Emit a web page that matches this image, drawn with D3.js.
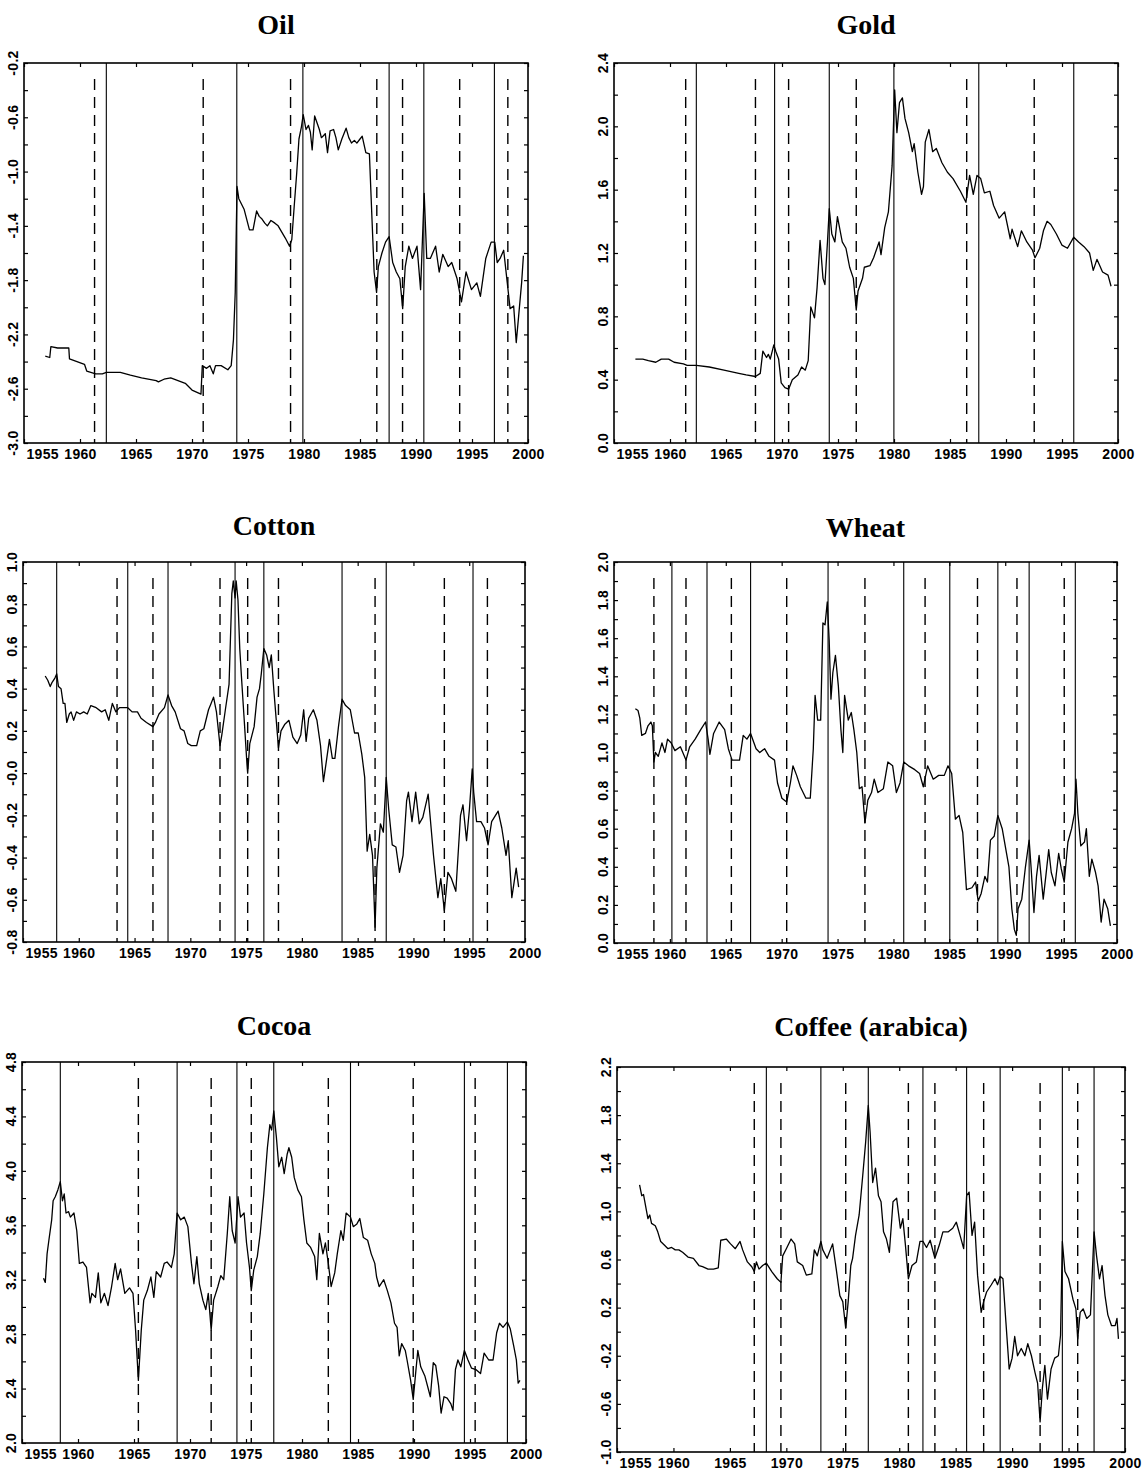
<!DOCTYPE html>
<html>
<head>
<meta charset="utf-8">
<script src="https://cdn.jsdelivr.net/npm/d3@7"></script>
<style>
    body { margin: 0; background: #fff; }
    svg { display: block; }
    .tick text { font-family: "Liberation Sans", Arial, sans-serif; font-weight: bold; font-size: 14px; letter-spacing: 0.3px; fill: #000; }
    .ylab { font-family: "Liberation Sans", Arial, sans-serif; font-weight: bold; font-size: 14px; letter-spacing: 0.3px; fill: #000; }
    .title { font-family: "Liberation Serif", "Times New Roman", serif; font-weight: bold; font-size: 28px; fill: #000; }
</style>
</head>
<body>
<svg id="chart" width="1146" height="1474"></svg>
<script>
// Shared x axis
const yearTicks = [1955, 1960, 1965, 1970, 1975, 1980, 1985, 1990, 1995, 2000];
const yearLabels = ['1955', '1960', '1965', '1970', '1975', '1980', '1985', '1990', '1995', '2000'];

// Oil
const oilTicks = [-3.0, -2.6, -2.2, -1.8, -1.4, -1.0, -0.6, -0.2];
const oilLabels = ['-3.0', '-2.6', '-2.2', '-1.8', '-1.4', '-1.0', '-0.6', '-0.2'];
const oilSolid = [1962.35, 1974.0, 1979.9, 1987.6, 1990.7, 1997.0];
const oilDashed = [1961.3, 1971.0, 1978.8, 1986.5, 1988.8, 1993.9, 1998.2];
const oilSeries = [
    [1956.9,-2.36],[1957.3,-2.37],[1957.4,-2.29],[1958.0,-2.30],[1959.0,-2.30],[1959.06,-2.38],[1960.4,-2.42],
    [1960.6,-2.47],[1961.4,-2.49],[1962.0,-2.49],[1962.35,-2.48],[1963.6,-2.48],[1964.5,-2.50],[1965.5,-2.52],
    [1966.8,-2.54],[1967.0,-2.55],[1967.5,-2.53],[1968.1,-2.52],[1969.4,-2.56],[1970.0,-2.61],[1970.8,-2.64],
    [1970.92,-2.43],[1971.3,-2.45],[1971.6,-2.43],[1971.9,-2.49],[1972.1,-2.43],[1972.6,-2.43],[1973.2,-2.46],
    [1973.5,-2.43],[1973.7,-2.24],[1973.86,-1.89],[1974.02,-1.11],[1974.18,-1.20],[1974.66,-1.28],[1975.13,-1.43],
    [1975.45,-1.43],[1975.77,-1.29],[1976.0,-1.33],[1976.25,-1.35],[1976.5,-1.38],[1976.73,-1.40],[1977.05,-1.36],
    [1977.4,-1.38],[1977.69,-1.40],[1978.33,-1.49],[1978.71,-1.55],[1978.91,-1.50],[1979.13,-1.25],[1979.35,-1.01],
    [1979.55,-0.76],[1979.77,-0.67],[1979.93,-0.58],[1980.18,-0.69],[1980.4,-0.66],[1980.57,-0.71],[1980.73,-0.84],
    [1980.95,-0.59],[1981.2,-0.65],[1981.37,-0.69],[1981.55,-0.75],[1981.69,-0.74],[1981.9,-0.72],[1982.1,-0.86],
    [1982.33,-0.70],[1982.64,-0.69],[1982.85,-0.75],[1983.06,-0.84],[1983.38,-0.76],[1983.76,-0.68],[1984.0,-0.75],
    [1984.24,-0.79],[1984.5,-0.77],[1984.72,-0.79],[1985.0,-0.76],[1985.2,-0.74],[1985.52,-0.86],[1985.84,-0.87],
    [1986.07,-1.35],[1986.26,-1.74],[1986.48,-1.89],[1986.64,-1.70],[1986.96,-1.60],[1987.28,-1.52],[1987.6,-1.48],
    [1987.92,-1.67],[1988.24,-1.74],[1988.56,-1.79],[1988.81,-2.01],[1989.04,-1.70],[1989.36,-1.55],[1989.68,-1.64],
    [1990.09,-1.55],[1990.41,-1.87],[1990.73,-1.16],[1990.96,-1.64],[1991.28,-1.64],[1991.75,-1.55],[1992.07,-1.74],
    [1992.39,-1.61],[1992.87,-1.70],[1993.19,-1.67],[1993.67,-1.79],[1994.06,-1.96],[1994.47,-1.74],[1994.95,-1.87],
    [1995.43,-1.82],[1995.75,-1.92],[1996.23,-1.64],[1996.71,-1.52],[1997.03,-1.52],[1997.25,-1.67],[1997.51,-1.64],
    [1997.83,-1.58],[1998.15,-1.82],[1998.4,-2.01],[1998.72,-1.99],[1998.95,-2.26],[1999.17,-2.06],[1999.43,-1.82],
    [1999.59,-1.62]
];

// Gold
const goldTicks = [0.0, 0.4, 0.8, 1.2, 1.6, 2.0, 2.4];
const goldLabels = ['0.0', '0.4', '0.8', '1.2', '1.6', '2.0', '2.4'];
const goldSolid = [1962.35, 1969.34, 1974.22, 1979.99, 1987.57, 1996.05];
const goldDashed = [1961.4, 1967.63, 1970.59, 1976.63, 1986.49, 1992.52];
const goldSeries = [
    [1956.91,0.53],[1957.57,0.53],[1958.07,0.52],[1958.73,0.51],[1959.22,0.53],[1959.88,0.53],[1960.37,0.51],
    [1961.2,0.5],[1961.53,0.49],[1962.35,0.49],[1963.51,0.48],[1964.82,0.46],[1966.14,0.44],[1966.8,0.43],
    [1967.63,0.42],[1968.06,0.44],[1968.29,0.58],[1968.62,0.54],[1968.78,0.56],[1968.95,0.53],[1969.27,0.62],
    [1969.44,0.58],[1969.7,0.53],[1969.93,0.38],[1970.26,0.35],[1970.59,0.34],[1970.92,0.4],[1971.42,0.43],
    [1971.75,0.48],[1972.08,0.46],[1972.34,0.52],[1972.57,0.86],[1972.9,0.79],[1973.13,0.98],[1973.4,1.28],
    [1973.66,1.04],[1973.83,1.0],[1974.06,1.27],[1974.22,1.48],[1974.45,1.32],[1974.72,1.27],[1974.95,1.43],
    [1975.38,1.27],[1975.71,1.23],[1976.04,1.11],[1976.37,1.04],[1976.63,0.84],[1976.79,0.96],[1977.19,1.04],
    [1977.35,1.11],[1977.85,1.12],[1978.18,1.17],[1978.67,1.27],[1978.84,1.19],[1979.17,1.36],[1979.5,1.46],
    [1979.83,1.75],[1980.06,2.23],[1980.26,1.96],[1980.49,2.15],[1980.75,2.18],[1980.98,2.05],[1981.31,1.96],
    [1981.64,1.84],[1981.8,1.89],[1982.13,1.71],[1982.46,1.57],[1982.63,1.62],[1982.79,1.9],[1983.12,1.98],
    [1983.45,1.84],[1983.78,1.86],[1984.28,1.77],[1984.77,1.71],[1985.27,1.67],[1985.93,1.59],[1986.42,1.52],
    [1986.75,1.69],[1987.08,1.57],[1987.41,1.69],[1987.74,1.67],[1988.07,1.58],[1988.56,1.59],[1988.89,1.5],
    [1989.39,1.42],[1989.88,1.46],[1990.38,1.29],[1990.54,1.35],[1991.04,1.24],[1991.37,1.34],[1991.86,1.27],
    [1992.35,1.22],[1992.59,1.17],[1993.01,1.23],[1993.34,1.34],[1993.67,1.4],[1994.0,1.38],[1994.5,1.32],
    [1994.99,1.25],[1995.49,1.23],[1996.05,1.3],[1996.48,1.27],[1996.97,1.24],[1997.46,1.2],[1997.79,1.09],
    [1998.12,1.16],[1998.62,1.08],[1999.11,1.06],[1999.38,0.99]
];

// Cotton
const cottonTicks = [-0.8, -0.6, -0.4, -0.2, 0.0, 0.2, 0.4, 0.6, 0.8, 1.0];
const cottonLabels = ['-0.8', '-0.6', '-0.4', '-0.2', '-0.0', '0.2', '0.4', '0.6', '0.8', '1.0'];
const cottonSolid = [1958.02, 1964.39, 1968.0, 1974.01, 1976.59, 1983.6, 1987.56, 1995.34];
const cottonDashed = [1963.43, 1966.65, 1972.66, 1975.14, 1977.9, 1986.56, 1992.77, 1996.63];
const cottonSeries = [
    [1956.99,0.46],[1957.22,0.44],[1957.44,0.41],[1957.61,0.43],[1957.86,0.45],[1958.02,0.47],[1958.18,0.41],
    [1958.41,0.40],[1958.6,0.33],[1958.76,0.33],[1958.92,0.24],[1959.15,0.28],[1959.31,0.29],[1959.54,0.25],
    [1959.79,0.29],[1960.11,0.28],[1960.44,0.29],[1960.76,0.28],[1961.08,0.32],[1961.56,0.31],[1962.05,0.29],
    [1962.37,0.30],[1962.69,0.25],[1963.01,0.33],[1963.33,0.29],[1963.65,0.31],[1963.98,0.31],[1964.39,0.31],
    [1964.78,0.29],[1965.26,0.29],[1965.58,0.26],[1966.07,0.24],[1966.65,0.22],[1966.87,0.24],[1967.19,0.28],
    [1967.68,0.31],[1968.0,0.37],[1968.32,0.32],[1968.64,0.29],[1969.12,0.21],[1969.44,0.20],[1969.77,0.14],
    [1970.09,0.13],[1970.57,0.13],[1970.89,0.20],[1971.21,0.21],[1971.63,0.30],[1971.86,0.33],[1972.08,0.36],
    [1972.34,0.29],[1972.66,0.13],[1972.82,0.18],[1973.14,0.30],[1973.47,0.42],[1973.72,0.85],[1973.85,0.91],
    [1974.01,0.83],[1974.11,0.91],[1974.27,0.82],[1974.43,0.59],[1974.59,0.45],[1974.82,0.26],[1975.08,0.04],
    [1975.14,0.0],[1975.33,0.14],[1975.72,0.22],[1975.98,0.36],[1976.2,0.40],[1976.36,0.47],[1976.59,0.59],
    [1976.84,0.56],[1977.07,0.50],[1977.26,0.56],[1977.49,0.39],[1977.81,0.18],[1977.9,0.12],[1978.13,0.20],
    [1978.45,0.23],[1978.84,0.25],[1979.19,0.17],[1979.58,0.14],[1979.9,0.18],[1980.16,0.30],[1980.38,0.15],
    [1980.61,0.26],[1981.03,0.30],[1981.35,0.25],[1981.67,0.13],[1981.93,-0.04],[1982.15,0.04],[1982.47,0.16],
    [1982.73,0.07],[1982.96,0.07],[1983.28,0.22],[1983.6,0.35],[1983.92,0.32],[1984.34,0.30],[1984.72,0.19],
    [1985.05,0.19],[1985.37,0.09],[1985.63,-0.02],[1985.85,-0.37],[1986.08,-0.29],[1986.33,-0.39],[1986.56,-0.73],
    [1986.72,-0.45],[1987.04,-0.24],[1987.3,-0.28],[1987.56,-0.02],[1987.78,-0.17],[1988.1,-0.34],[1988.43,-0.35],
    [1988.75,-0.47],[1989.07,-0.39],[1989.39,-0.13],[1989.55,-0.09],[1989.87,-0.23],[1990.2,-0.09],[1990.52,-0.24],
    [1990.84,-0.21],[1991.32,-0.10],[1991.8,-0.39],[1992.19,-0.59],[1992.45,-0.50],[1992.77,-0.65],[1993.09,-0.47],
    [1993.41,-0.50],[1993.8,-0.56],[1994.22,-0.20],[1994.44,-0.15],[1994.76,-0.32],[1995.02,-0.17],[1995.27,0.02],
    [1995.4,-0.09],[1995.66,-0.23],[1996.05,-0.23],[1996.37,-0.26],[1996.69,-0.34],[1997.01,-0.23],[1997.59,-0.18],
    [1997.92,-0.26],[1998.3,-0.39],[1998.5,-0.32],[1998.82,-0.59],[1999.21,-0.45],[1999.43,-0.54]
];

// Wheat
const wheatTicks = [0.0, 0.2, 0.4, 0.6, 0.8, 1.0, 1.2, 1.4, 1.6, 1.8, 2.0];
const wheatLabels = ['0.0', '0.2', '0.4', '0.6', '0.8', '1.0', '1.2', '1.4', '1.6', '1.8', '2.0'];
const wheatSolid = [1960.18, 1963.32, 1967.22, 1974.15, 1980.92, 1985.04, 1989.34, 1992.14, 1996.27];
const wheatDashed = [1958.57, 1961.44, 1965.5, 1970.45, 1977.45, 1982.83, 1987.52, 1991.05, 1995.28];
const wheatSeries = [
    [1956.91,1.23],[1957.15,1.22],[1957.31,1.18],[1957.48,1.09],[1957.81,1.10],[1958.04,1.14],[1958.3,1.16],
    [1958.43,1.14],[1958.57,0.95],[1958.7,1.0],[1958.96,0.98],[1959.29,1.05],[1959.56,1.0],[1959.79,1.07],
    [1960.12,1.05],[1960.45,1.01],[1960.94,1.03],[1961.44,0.96],[1961.77,1.03],[1962.26,1.07],[1962.76,1.12],
    [1963.19,1.16],[1963.42,1.07],[1963.58,0.99],[1963.91,1.10],[1964.41,1.16],[1964.9,1.12],[1965.23,1.02],
    [1965.56,0.96],[1966.23,0.96],[1966.56,1.09],[1966.89,1.07],[1967.22,1.10],[1967.71,1.02],[1968.04,1.0],
    [1968.47,1.02],[1968.87,0.98],[1969.36,0.96],[1969.63,0.84],[1970.02,0.76],[1970.45,0.74],[1970.78,0.84],
    [1971.01,0.93],[1971.34,0.88],[1971.67,0.82],[1972.17,0.76],[1972.56,0.76],[1972.83,1.02],[1972.99,1.30],
    [1973.22,1.17],[1973.49,1.17],[1973.69,1.68],[1973.88,1.67],[1974.08,1.79],[1974.25,1.59],[1974.41,1.28],
    [1974.58,1.42],[1974.81,1.51],[1975.07,1.35],[1975.3,1.12],[1975.47,1.0],[1975.63,1.30],[1975.96,1.17],
    [1976.23,1.21],[1976.46,1.12],[1976.72,1.0],[1976.95,0.81],[1977.19,0.82],[1977.45,0.63],[1977.71,0.75],
    [1978.04,0.79],[1978.28,0.86],[1978.61,0.79],[1979.1,0.81],[1979.5,0.95],[1979.93,0.93],[1980.26,0.79],
    [1980.59,0.84],[1980.92,0.95],[1981.35,0.93],[1981.91,0.91],[1982.34,0.89],[1982.67,0.82],[1983.06,0.93],
    [1983.56,0.86],[1984.05,0.88],[1984.55,0.88],[1984.88,0.93],[1985.21,0.89],[1985.54,0.65],[1985.87,0.67],
    [1986.2,0.58],[1986.53,0.28],[1987.02,0.29],[1987.35,0.32],[1987.58,0.22],[1987.85,0.26],[1988.18,0.35],
    [1988.41,0.32],[1988.68,0.54],[1989.01,0.56],[1989.34,0.67],[1989.73,0.60],[1990.0,0.51],[1990.33,0.40],
    [1990.59,0.18],[1990.82,0.07],[1990.99,0.04],[1991.15,0.18],[1991.48,0.23],[1991.81,0.40],[1992.14,0.54],
    [1992.31,0.40],[1992.57,0.16],[1992.8,0.35],[1993.03,0.46],[1993.4,0.23],[1993.63,0.35],[1993.89,0.49],
    [1994.12,0.37],[1994.45,0.30],[1994.78,0.47],[1995.01,0.39],[1995.28,0.32],[1995.61,0.53],[1995.94,0.60],
    [1996.2,0.68],[1996.33,0.86],[1996.5,0.68],[1996.76,0.51],[1997.09,0.53],[1997.26,0.60],[1997.52,0.35],
    [1997.75,0.44],[1998.08,0.37],[1998.31,0.30],[1998.58,0.11],[1998.84,0.23],[1999.17,0.18],[1999.41,0.09]
];

// Cocoa
const cocoaTicks = [2.0, 2.4, 2.8, 3.2, 3.6, 4.0, 4.4, 4.8];
const cocoaLabels = ['2.0', '2.4', '2.8', '3.2', '3.6', '4.0', '4.4', '4.8'];
const cocoaSolid = [1958.42, 1968.85, 1974.19, 1977.48, 1984.33, 1994.5, 1998.34];
const cocoaDashed = [1965.39, 1971.89, 1975.47, 1982.35, 1989.93, 1995.46];
const cocoaSeries = [
    [1956.92,3.21],[1957.08,3.18],[1957.24,3.39],[1957.4,3.49],[1957.65,3.64],[1957.78,3.78],[1957.97,3.81],
    [1958.2,3.86],[1958.42,3.92],[1958.61,3.78],[1958.77,3.83],[1958.93,3.69],[1959.16,3.70],[1959.32,3.66],
    [1959.64,3.69],[1959.89,3.56],[1960.12,3.32],[1960.44,3.33],[1960.76,3.29],[1961.08,3.03],[1961.24,3.10],
    [1961.56,3.07],[1961.81,3.25],[1962.04,3.03],[1962.36,3.10],[1962.68,3.01],[1963.0,3.15],[1963.32,3.32],
    [1963.54,3.20],[1963.8,3.28],[1964.18,3.10],[1964.6,3.14],[1964.91,3.10],[1965.14,2.83],[1965.39,2.46],
    [1965.65,2.83],[1965.87,3.05],[1966.19,3.12],[1966.51,3.22],[1966.77,3.07],[1966.99,3.26],[1967.38,3.22],
    [1967.7,3.32],[1967.95,3.33],[1968.34,3.29],[1968.59,3.39],[1968.85,3.69],[1969.17,3.64],[1969.49,3.66],
    [1969.81,3.59],[1970.13,3.32],[1970.35,3.17],[1970.61,3.37],[1970.83,3.17],[1971.15,3.05],[1971.41,2.98],
    [1971.63,3.10],[1971.89,2.83],[1972.11,3.05],[1972.49,3.15],[1972.75,3.23],[1973.01,3.20],[1973.33,3.54],
    [1973.55,3.81],[1973.77,3.56],[1974.03,3.47],[1974.29,3.81],[1974.51,3.66],[1974.83,3.69],[1975.05,3.47],
    [1975.31,3.29],[1975.47,3.12],[1975.69,3.27],[1976.01,3.37],[1976.27,3.54],[1976.59,3.83],[1976.91,4.17],
    [1977.13,4.34],[1977.29,4.30],[1977.48,4.44],[1977.71,4.25],[1977.93,4.03],[1978.19,4.10],[1978.41,3.98],
    [1978.67,4.12],[1978.83,4.17],[1979.08,4.10],[1979.31,3.95],[1979.63,3.86],[1979.95,3.81],[1980.17,3.64],
    [1980.43,3.47],[1980.75,3.44],[1981.13,3.37],[1981.32,3.20],[1981.55,3.54],[1981.87,3.39],[1982.09,3.47],
    [1982.35,3.32],[1982.6,3.15],[1982.92,3.25],[1983.15,3.39],[1983.47,3.56],[1983.69,3.49],[1983.94,3.69],
    [1984.33,3.66],[1984.58,3.59],[1984.9,3.61],[1985.16,3.65],[1985.48,3.51],[1985.86,3.49],[1986.18,3.39],
    [1986.5,3.32],[1986.66,3.22],[1986.89,3.15],[1987.3,3.20],[1987.62,3.12],[1987.94,3.03],[1988.26,2.88],
    [1988.49,2.85],[1988.68,2.64],[1988.9,2.73],[1989.22,2.68],[1989.38,2.61],[1989.7,2.46],[1989.93,2.32],
    [1990.12,2.49],[1990.34,2.68],[1990.6,2.56],[1990.98,2.49],[1991.46,2.34],[1991.72,2.59],[1991.94,2.57],
    [1992.2,2.42],[1992.42,2.22],[1992.68,2.34],[1992.96,2.33],[1993.28,2.29],[1993.48,2.24],[1993.7,2.54],
    [1993.92,2.61],[1994.18,2.56],[1994.5,2.68],[1994.82,2.61],[1995.14,2.55],[1995.52,2.54],[1995.94,2.51],
    [1996.26,2.66],[1996.67,2.61],[1997.06,2.61],[1997.38,2.81],[1997.63,2.88],[1997.95,2.85],[1998.34,2.89],
    [1998.59,2.84],[1998.91,2.71],[1999.14,2.61],[1999.3,2.44],[1999.46,2.46]
];

// Coffee (arabica)
const coffeeTicks = [-1.0, -0.6, -0.2, 0.2, 0.6, 1.0, 1.4, 1.8, 2.2];
const coffeeLabels = ['-1.0', '-0.6', '-0.2', '0.2', '0.6', '1.0', '1.4', '1.8', '2.2'];
const coffeeSolid = [1968.23, 1973.06, 1977.26, 1982.1, 1985.97, 1988.94, 1994.45, 1997.26];
const coffeeDashed = [1967.16, 1969.52, 1975.26, 1980.81, 1983.16, 1987.48, 1992.48, 1995.81];
const coffeeSeries = [
    [1957.0,1.22],[1957.19,1.13],[1957.35,1.14],[1957.58,1.02],[1957.74,0.94],[1957.9,0.97],[1958.06,0.90],
    [1958.39,0.88],[1958.61,0.83],[1958.87,0.75],[1959.19,0.72],[1959.52,0.69],[1959.84,0.70],[1960.16,0.68],
    [1960.48,0.68],[1960.81,0.66],[1961.29,0.62],[1961.77,0.61],[1962.26,0.55],[1962.58,0.54],[1963.06,0.52],
    [1963.55,0.52],[1963.97,0.53],[1964.19,0.76],[1964.68,0.77],[1965.06,0.73],[1965.48,0.69],[1965.9,0.75],
    [1966.13,0.68],[1966.55,0.58],[1966.94,0.54],[1967.16,0.50],[1967.35,0.58],[1967.58,0.52],[1967.9,0.55],
    [1968.23,0.57],[1968.71,0.50],[1969.19,0.44],[1969.52,0.41],[1969.68,0.63],[1970.0,0.69],[1970.42,0.77],
    [1970.74,0.73],[1970.97,0.58],[1971.45,0.55],[1971.77,0.47],[1972.26,0.48],[1972.48,0.68],[1972.74,0.63],
    [1973.06,0.75],[1973.23,0.68],[1973.61,0.61],[1974.1,0.73],[1974.42,0.52],[1974.74,0.30],[1975.0,0.25],
    [1975.26,0.03],[1975.48,0.25],[1975.71,0.55],[1975.87,0.61],[1976.13,0.80],[1976.45,0.97],[1976.77,1.30],
    [1977.03,1.58],[1977.26,1.88],[1977.42,1.66],[1977.65,1.24],[1977.9,1.36],[1978.16,1.13],[1978.39,1.08],
    [1978.61,0.83],[1978.87,0.77],[1979.13,0.66],[1979.45,1.08],[1979.77,1.11],[1980.1,0.86],[1980.32,0.94],
    [1980.55,0.72],[1980.81,0.44],[1981.13,0.55],[1981.52,0.58],[1981.84,0.75],[1982.1,0.75],[1982.42,0.70],
    [1982.74,0.76],[1983.16,0.61],[1983.55,0.72],[1983.87,0.83],[1984.35,0.83],[1984.74,0.86],[1985.06,0.91],
    [1985.39,0.80],[1985.71,0.69],[1985.97,1.13],[1986.19,1.16],[1986.45,0.80],[1986.68,0.91],[1986.94,0.47],
    [1987.26,0.16],[1987.48,0.25],[1987.74,0.33],[1988.16,0.39],[1988.48,0.44],[1988.71,0.39],[1988.94,0.46],
    [1989.19,0.44],[1989.45,0.08],[1989.74,-0.31],[1990.0,-0.22],[1990.23,-0.04],[1990.48,-0.20],[1990.81,-0.14],
    [1991.13,-0.20],[1991.39,-0.10],[1991.71,-0.20],[1992.03,-0.34],[1992.26,-0.43],[1992.48,-0.75],[1992.68,-0.47],
    [1992.9,-0.28],[1993.13,-0.56],[1993.45,-0.31],[1993.77,-0.22],[1994.1,-0.20],[1994.29,-0.03],[1994.45,0.75],
    [1994.68,0.50],[1995.0,0.44],[1995.39,0.27],[1995.65,0.19],[1995.81,-0.06],[1996.03,0.16],[1996.29,0.19],
    [1996.61,0.11],[1996.94,0.14],[1997.26,0.83],[1997.48,0.63],[1997.74,0.44],[1997.97,0.55],[1998.23,0.30],
    [1998.48,0.14],[1998.81,0.05],[1999.13,0.05],[1999.29,0.11],[1999.42,-0.06]
];

// Panel layout (frame boxes in page pixels)
const panels = [
    { title: 'Oil', series: oilSeries, solid: oilSolid, dashed: oilDashed, ticks: oilTicks, labels: oilLabels,
      box: { x0: 24, x1: 528, y0: 63, y1: 443 }, titleY: 34 },
    { title: 'Gold', series: goldSeries, solid: goldSolid, dashed: goldDashed, ticks: goldTicks, labels: goldLabels,
      box: { x0: 614, x1: 1118, y0: 63, y1: 443 }, titleY: 34 },
    { title: 'Cotton', series: cottonSeries, solid: cottonSolid, dashed: cottonDashed, ticks: cottonTicks, labels: cottonLabels,
      box: { x0: 23, x1: 525, y0: 562, y1: 942 }, titleY: 535 },
    { title: 'Wheat', series: wheatSeries, solid: wheatSolid, dashed: wheatDashed, ticks: wheatTicks, labels: wheatLabels,
      box: { x0: 614, x1: 1117, y0: 562, y1: 943 }, titleY: 537 },
    { title: 'Cocoa', series: cocoaSeries, solid: cocoaSolid, dashed: cocoaDashed, ticks: cocoaTicks, labels: cocoaLabels,
      box: { x0: 22, x1: 526, y0: 1062, y1: 1443 }, titleY: 1035 },
    { title: 'Coffee (arabica)', series: coffeeSeries, solid: coffeeSolid, dashed: coffeeDashed, ticks: coffeeTicks, labels: coffeeLabels,
      box: { x0: 617, x1: 1125, y0: 1067, y1: 1452 }, titleY: 1036 }
];

const svg = d3.select('#chart');

function drawPanel(p) {
    const b = p.box;
    const x = d3.scaleLinear().domain([1955, 2000]).range([b.x0, b.x1]);
    const y = d3.scaleLinear()
        .domain([p.ticks[0], p.ticks[p.ticks.length - 1]])
        .range([b.y1, b.y0]);

    const g = svg.append('g');

    // Title
    g.append('text')
        .attr('class', 'title')
        .attr('x', (b.x0 + b.x1) / 2)
        .attr('y', p.titleY)
        .attr('text-anchor', 'middle')
        .text(p.title);

    // Break dates: solid lines span full height, dashed start a bit lower
    g.selectAll('line.solid')
        .data(p.solid)
        .join('line')
        .attr('class', 'solid')
        .attr('x1', d => x(d)).attr('x2', d => x(d))
        .attr('y1', b.y0).attr('y2', b.y1)
        .attr('stroke', '#000')
        .attr('stroke-width', 1.1);

    g.selectAll('line.dashed')
        .data(p.dashed)
        .join('line')
        .attr('class', 'dashed')
        .attr('x1', d => x(d)).attr('x2', d => x(d))
        .attr('y1', b.y0 + 16).attr('y2', b.y1)
        .attr('stroke', '#000')
        .attr('stroke-width', 1.4)
        .attr('stroke-dasharray', '11,7');

    // Price series
    const line = d3.line().x(d => x(d[0])).y(d => y(d[1]));
    g.append('path')
        .datum(p.series)
        .attr('d', line)
        .attr('fill', 'none')
        .attr('stroke', '#000')
        .attr('stroke-width', 1.3)
        .attr('stroke-linejoin', 'round');

    // Inner ticks: every 5 years on bottom/top, major + half steps on left/right
    const minor = p.ticks.slice(1).map((t, i) => (t + p.ticks[i]) / 2);
    const yAll = p.ticks.concat(minor);

    const bottom = g.append('g')
        .attr('transform', `translate(0,${b.y1})`)
        .call(d3.axisBottom(x).tickValues(yearTicks).tickSize(-4).tickPadding(6)
            .tickFormat((d, i) => yearLabels[i]));
    bottom.select('.domain').remove();
    bottom.selectAll('.tick text').filter((d, i) => i === 0)
        .attr('text-anchor', 'start').attr('x', 2);

    const top = g.append('g')
        .attr('transform', `translate(0,${b.y0})`)
        .call(d3.axisTop(x).tickValues(yearTicks).tickSize(-4).tickFormat(''));
    top.select('.domain').remove();

    const left = g.append('g')
        .attr('transform', `translate(${b.x0},0)`)
        .call(d3.axisLeft(y).tickValues(yAll).tickSize(-4).tickFormat(''));
    left.select('.domain').remove();

    const right = g.append('g')
        .attr('transform', `translate(${b.x1},0)`)
        .call(d3.axisRight(y).tickValues(yAll).tickSize(-4).tickFormat(''));
    right.select('.domain').remove();

    g.selectAll('.tick line').attr('stroke', '#000').attr('stroke-width', 1.2);

    // Rotated y labels
    g.selectAll('text.ylab')
        .data(p.ticks)
        .join('text')
        .attr('class', 'ylab')
        .attr('transform', d => `translate(${b.x0 - 6},${y(d)}) rotate(-90)`)
        .attr('text-anchor', 'middle')
        .text((d, i) => p.labels[i]);

    // Frame
    g.append('rect')
        .attr('x', b.x0).attr('y', b.y0)
        .attr('width', b.x1 - b.x0).attr('height', b.y1 - b.y0)
        .attr('fill', 'none')
        .attr('stroke', '#000')
        .attr('stroke-width', 1.6);
}

panels.forEach(drawPanel);
</script>
</body>
</html>
